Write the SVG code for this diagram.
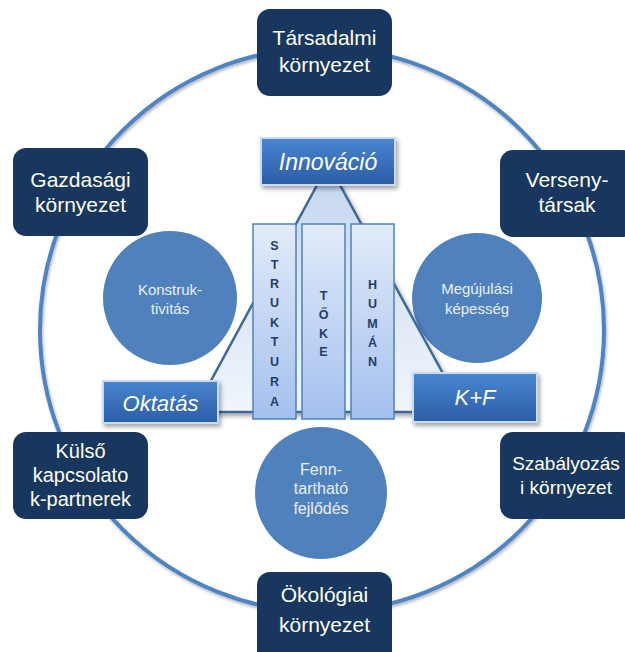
<svg xmlns="http://www.w3.org/2000/svg" width="625" height="652" viewBox="0 0 625 652">
<defs>
<linearGradient id="lbl" x1="0" y1="0" x2="0" y2="1"><stop offset="0" stop-color="#4a86d0"/><stop offset="1" stop-color="#2a5ca6"/></linearGradient>
<linearGradient id="tri" x1="0" y1="0" x2="0" y2="1"><stop offset="0" stop-color="#c3d5ee"/><stop offset="1" stop-color="#f0f5fb"/></linearGradient>
<linearGradient id="pil" x1="0" y1="0" x2="0" y2="1"><stop offset="0" stop-color="#e2ebf9"/><stop offset="1" stop-color="#a4c0ee"/></linearGradient>
<filter id="sh" x="-20%" y="-20%" width="140%" height="140%"><feDropShadow dx="2" dy="3" stdDeviation="2" flood-color="#000" flood-opacity="0.35"/></filter>
<filter id="sh2" x="-5%" y="-5%" width="110%" height="110%"><feDropShadow dx="1" dy="2" stdDeviation="1.5" flood-color="#000" flood-opacity="0.3"/></filter>
</defs>
<style>
.box{fill:#17375e;}
.bt{font-family:"Liberation Sans",Arial,sans-serif;font-size:21px;fill:#ffffff;text-anchor:middle;}
.circ{fill:#4f81bd;}
.ct{font-family:"Liberation Sans",Arial,sans-serif;font-size:15px;fill:#e9eff8;text-anchor:middle;}
.lb{fill:url(#lbl);stroke:#c9dbf2;stroke-width:2;filter:url(#sh);}
.lt{font-family:"Liberation Sans",Arial,sans-serif;font-size:23px;font-style:italic;fill:#ffffff;text-anchor:middle;}
.pl{fill:url(#pil);stroke:#4f81bd;stroke-width:1.5;}
.pt{font-family:"Liberation Sans",Arial,sans-serif;font-size:12.5px;font-weight:bold;fill:#1f3d6e;text-anchor:middle;}
</style>
<g id="connectors">
<circle cx="322" cy="330" r="282" fill="none" stroke="#4f84c4" stroke-width="4" filter="url(#sh2)"/>
</g>
<g id="tarsadalmi"><rect class="box" x="257" y="9" width="135" height="87" rx="13"/><text class="bt" x="324.5" y="45">Társadalmi</text><text class="bt" x="324.5" y="72">környezet</text></g>
<g id="gazdasagi"><rect class="box" x="13" y="148" width="135" height="88" rx="13"/><text class="bt" x="80.5" y="187">Gazdasági</text><text class="bt" x="80.5" y="212">környezet</text></g>
<g id="versenytarsak"><rect class="box" x="500" y="150" width="135" height="87" rx="13"/><text class="bt" x="567" y="187">Verseny-</text><text class="bt" x="567" y="212">társak</text></g>
<g id="kulso"><rect class="box" x="13" y="432" width="135" height="87" rx="13"/><text class="bt" x="80.5" y="458" style="font-size:20px">Külső</text><text class="bt" x="80.5" y="482" style="font-size:20px">kapcsolato</text><text class="bt" x="80.5" y="506" style="font-size:20px">k-partnerek</text></g>
<g id="szabalyozasi"><rect class="box" x="500" y="432" width="135" height="87" rx="13"/><text class="bt" x="566" y="470" style="font-size:19px">Szabályozás</text><text class="bt" x="566" y="494" style="font-size:19px">i környezet</text></g>
<g id="okologiai"><rect class="box" x="257" y="572" width="135" height="95" rx="13"/><text class="bt" x="324.5" y="602">Ökológiai</text><text class="bt" x="324.5" y="632">környezet</text></g>
<g id="konstruktivitas"><circle class="circ" cx="170" cy="298" r="67"/><text class="ct" x="170" y="295">Konstruk-</text><text class="ct" x="170" y="314">tivitás</text></g>
<g id="megujulasi"><circle class="circ" cx="477" cy="298" r="65"/><text class="ct" x="477" y="294">Megújulási</text><text class="ct" x="477" y="314">képesség</text></g>
<g id="fenntarthato"><circle class="circ" cx="321" cy="493" r="66"/><text class="ct" x="321" y="475" style="font-size:16px">Fenn-</text><text class="ct" x="321" y="494" style="font-size:16px">tartható</text><text class="ct" x="321" y="514" style="font-size:16px">fejlődés</text></g>
<g id="triangle"><polygon points="328.5,164 194,412 464,412" fill="url(#tri)" stroke="#3d6899" stroke-width="2.5" stroke-linejoin="round" filter="url(#sh)"/></g>
<g id="struktura"><rect class="pl" x="253" y="224" width="43" height="195"/>
<text class="pt" x="274.5" y="250">S</text><text class="pt" x="274.5" y="269">T</text><text class="pt" x="274.5" y="288">R</text><text class="pt" x="274.5" y="307">U</text><text class="pt" x="274.5" y="327">K</text><text class="pt" x="274.5" y="346">T</text><text class="pt" x="274.5" y="366">U</text><text class="pt" x="274.5" y="386">R</text><text class="pt" x="274.5" y="406">A</text></g>
<g id="toke"><rect class="pl" x="302" y="224" width="43" height="195"/>
<text class="pt" x="323.5" y="300">T</text><text class="pt" x="323.5" y="319">Ő</text><text class="pt" x="323.5" y="338">K</text><text class="pt" x="323.5" y="356">E</text></g>
<g id="human"><rect class="pl" x="351" y="224" width="43" height="195"/>
<text class="pt" x="372.5" y="289">H</text><text class="pt" x="372.5" y="308">U</text><text class="pt" x="372.5" y="328">M</text><text class="pt" x="372.5" y="347">Á</text><text class="pt" x="372.5" y="366">N</text></g>
<g id="innovacio"><rect class="lb" x="261" y="138" width="134" height="47"/><text class="lt" x="328" y="170">Innováció</text></g>
<g id="oktatas"><rect class="lb" x="103" y="381" width="115" height="42"/><text class="lt" x="160.5" y="411" style="font-size:22px">Oktatás</text></g>
<g id="kf"><rect class="lb" x="413" y="373" width="124" height="49"/><text class="lt" x="475" y="405" style="font-size:22px">K+F</text></g>
</svg>
